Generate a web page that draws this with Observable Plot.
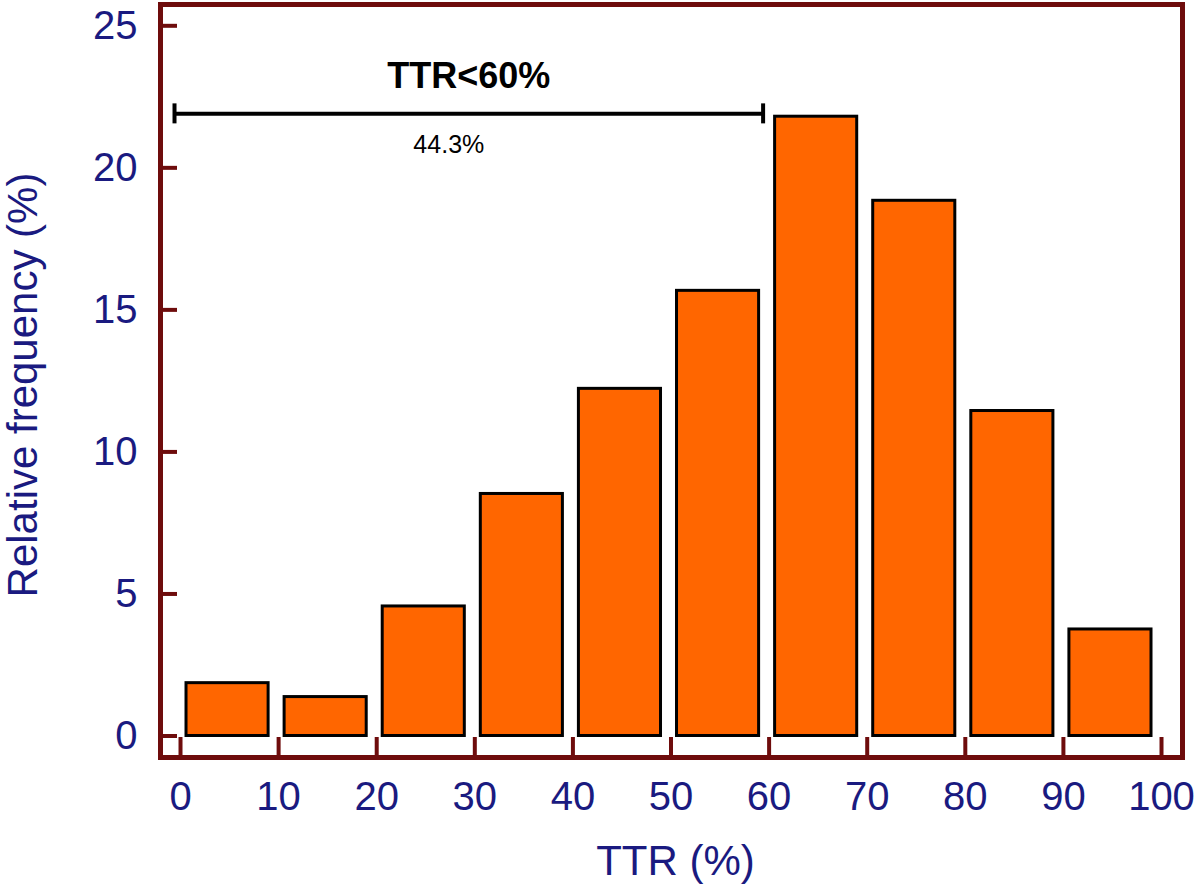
<!DOCTYPE html>
<html>
<head>
<meta charset="utf-8">
<script src="https://cdn.jsdelivr.net/npm/d3@7"></script>
<script src="https://cdn.jsdelivr.net/npm/@observablehq/plot@0.6"></script>
<style>
  html, body { margin: 0; padding: 0; background: #ffffff; }
</style>
</head>
<body>
<div id="chart"></div>
<script>
// ---- data ----
const binLo = [0, 10, 20, 30, 40, 50, 60, 70, 80, 90];
const binHi = [10, 20, 30, 40, 50, 60, 70, 80, 90, 100];
const freq  = [1.86, 1.37, 4.56, 8.52, 12.22, 15.67, 21.80, 18.84, 11.44, 3.75];
const xTicks = [0, 10, 20, 30, 40, 50, 60, 70, 80, 90, 100];
const yTicks = [0, 5, 10, 15, 20, 25];
const bracketEnds = [0, 60];
const bracketY = 21.9;
const bracketLabel = ["TTR<60%"];
const bracketPct = ["44.3%"];
const bracketMid = 30;
const xLabel = ["TTR (%)"];
const yLabel = ["Relative frequency (%)"];

const bins = binLo.map((lo, i) => ({lo, hi: binHi[i], freq: freq[i]}));

const maroon = "#6e0c0c";
const navy = "#1a1a80";

const chart = Plot.plot({
  width: 1200,
  height: 888,
  marginLeft: 160,
  marginRight: 18,
  marginTop: 4,
  marginBottom: 131,
  style: {fontFamily: "'Liberation Sans', Arial, sans-serif", background: "#ffffff"},
  x: {domain: [-2.04, 102.14]},
  y: {domain: [-0.757, 25.75]},
  marks: [
    Plot.rectY(bins, {x1: "lo", x2: "hi", y1: 0, y2: "freq", fill: "#ff6600", stroke: "#000000", strokeWidth: 3, insetLeft: 6, insetRight: 10}),
    Plot.axisX({ticks: xTicks, tickSize: -20, tickFormat: () => "", stroke: maroon, strokeWidth: 4, label: null}),
    Plot.axisX({ticks: xTicks, tickSize: 0, tickPadding: 24, fontSize: 40, fill: navy, label: null}),
    Plot.axisY({ticks: yTicks, tickSize: -17, tickFormat: () => "", stroke: maroon, strokeWidth: 4, label: null}),
    Plot.axisY({ticks: yTicks, tickSize: 0, tickPadding: 23, fontSize: 40, fill: navy, label: null}),
    Plot.frame({stroke: maroon, strokeWidth: 5}),
    Plot.ruleY([bracketY], {x1: bracketEnds[0], x2: bracketEnds[1], dx: -6, stroke: "#000000", strokeWidth: 4}),
    Plot.ruleX(bracketEnds, {x: d => d, y1: bracketY, y2: bracketY, insetTop: -10, insetBottom: -10, dx: -6, stroke: "#000000", strokeWidth: 4}),
    Plot.text(bracketLabel, {x: bracketMid, y: bracketY, text: d => d, dx: -6, dy: -37, fontSize: 36, fontWeight: "bold", fill: "#000000", lineAnchor: "middle"}),
    Plot.text(bracketPct, {x: bracketMid, y: bracketY, text: d => d, dx: -26, dy: 31, fontSize: 25, fill: "#000000", lineAnchor: "middle"}),
    Plot.text(xLabel, {frameAnchor: "bottom", text: d => d, dx: 4, dy: 104, fontSize: 42, fill: navy, textAnchor: "middle", lineAnchor: "middle"}),
    Plot.text(yLabel, {frameAnchor: "left", text: d => d, dx: -137, dy: 4, rotate: -90, fontSize: 42, fill: navy, textAnchor: "middle", lineAnchor: "middle"})
  ]
});

document.getElementById("chart").appendChild(chart);
</script>
</body>
</html>
